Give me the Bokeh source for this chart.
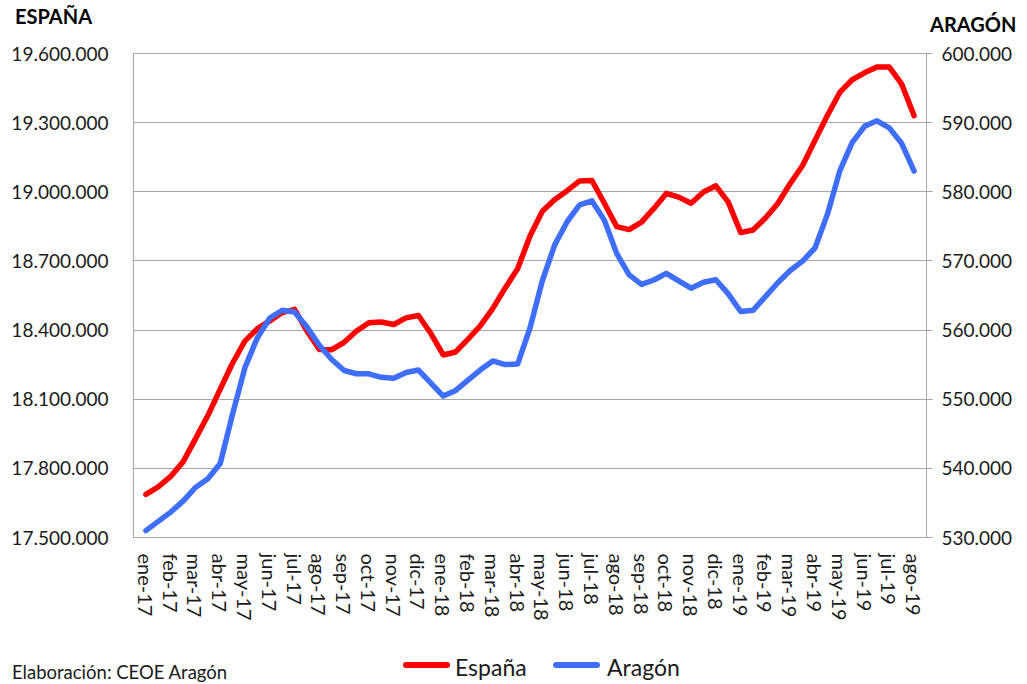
from bokeh.plotting import figure
from bokeh.layouts import column
from bokeh.models import (Range1d, LinearAxis, FixedTicker, CustomJSTickFormatter,
                          ColumnDataSource, Div)
from bokeh.embed import file_html
from bokeh.resources import INLINE

# ---------------- data ----------------
meses = ["ene-17", "feb-17", "mar-17", "abr-17", "may-17", "jun-17", "jul-17", "ago-17",
         "sep-17", "oct-17", "nov-17", "dic-17", "ene-18", "feb-18", "mar-18", "abr-18",
         "may-18", "jun-18", "jul-18", "ago-18", "sep-18", "oct-18", "nov-18", "dic-18",
         "ene-19", "feb-19", "mar-19", "abr-19", "may-19", "jun-19", "jul-19", "ago-19"]

# afiliados (half-month readings), España
espana = [17687000, 17720000, 17765000, 17828000, 17928000, 18029000, 18144000, 18257000,
          18353000, 18406000, 18440000, 18476000, 18490000, 18396000, 18316000, 18315000,
          18347000, 18396000, 18432000, 18435000, 18424000, 18453000, 18463000, 18385000,
          18292000, 18305000, 18361000, 18419000, 18494000, 18583000, 18666000, 18808000,
          18916000, 18967000, 19005000, 19047000, 19049000, 18950000, 18849000, 18836000,
          18868000, 18928000, 18993000, 18977000, 18950000, 18999000, 19026000, 18955000,
          18823000, 18834000, 18886000, 18949000, 19036000, 19114000, 19223000, 19331000,
          19431000, 19486000, 19516000, 19541000, 19541000, 19467000, 19330000]

# Aragón
aragon = [531000, 532330, 533670, 535260, 537230, 538500, 540700, 547880,
          554600, 558900, 561750, 562870, 562610, 560430, 557810, 555740,
          554150, 553680, 553680, 553160, 553040, 553860, 554220, 552320,
          550460, 551270, 552760, 554250, 555530, 555010, 555090, 560300,
          567170, 572360, 575670, 578100, 578680, 575900, 571060, 567990,
          566610, 567240, 568210, 567130, 566060, 566920, 567270, 565230,
          562690, 562860, 564830, 566850, 568620, 569980, 571870, 576730,
          583010, 587100, 589470, 590270, 589240, 586980, 583000]

ticks_espana = [17500000, 17800000, 18100000, 18400000, 18700000, 19000000, 19300000, 19600000]
ticks_aragon = [530000, 540000, 550000, 560000, 570000, 580000, 590000, 600000]

series_names = ["España", "Aragón"]
titulo_izq = "ESPAÑA"
titulo_der = "ARAGÓN"
fuente = "Elaboración: CEOE Aragón"

pos = [i * 0.5 for i in range(len(espana))]   # month index, two readings per month

FONT = "Lato"
GRID = "#A6A6A6"
RED = "#FF0000"
BLUE = "#3F6EFF"
TXT = "#1a1a1a"
W = 1019

# ---------- header: axis titles ----------
span = ("position:absolute;left:{l}px;top:{t}px;font-size:{s}px;font-weight:{w};"
        "line-height:1.2;white-space:nowrap;color:{c};")
header_html = (
    f'<div style="position:relative;width:{W}px;height:38px;overflow:hidden;font-family:{FONT};">'
    f'<span style="{span.format(l=15, t=4, s=20, w="bold", c="#000")}">{titulo_izq}</span>'
    f'<span style="{span.format(l=930, t=12, s=20, w="bold", c="#000")}">{titulo_der}</span>'
    '</div>')
header = Div(text=header_html, width=W, height=38, margin=0)

# ---------- main chart ----------
p = figure(width=W, height=602, output_backend="svg", toolbar_location=None,
           x_range=Range1d(-0.5, len(meses) - 0.5),
           y_range=Range1d(ticks_espana[0], ticks_espana[-1]),
           min_border_left=133, min_border_right=93, min_border_top=15, min_border_bottom=103)
p.extra_y_ranges = {"aragon": Range1d(ticks_aragon[0], ticks_aragon[-1])}

p.background_fill_color = "white"
p.border_fill_color = "white"
p.outline_line_color = GRID
p.outline_line_width = 1

fmt = CustomJSTickFormatter(code=r"return Math.round(tick).toString().replace(/\B(?=(\d{3})+(?!\d))/g, '.');")

ya = p.yaxis[0]
ya.ticker = FixedTicker(ticks=ticks_espana)
ya.formatter = fmt
ya.major_tick_in = 0
ya.major_tick_out = 0
ya.minor_tick_line_color = None
ya.axis_line_color = GRID
ya.major_label_standoff = 25
ya.major_label_text_font = FONT
ya.major_label_text_font_size = "19px"
ya.major_label_text_color = TXT

ra = LinearAxis(y_range_name="aragon", ticker=FixedTicker(ticks=ticks_aragon), formatter=fmt)
ra.major_tick_in = 6
ra.major_tick_out = 6
ra.major_tick_line_color = GRID
ra.minor_tick_line_color = None
ra.axis_line_color = GRID
ra.major_label_standoff = 9
ra.major_label_text_font = FONT
ra.major_label_text_font_size = "19px"
ra.major_label_text_color = TXT
p.add_layout(ra, "right")

xa = p.xaxis[0]
xa.ticker = FixedTicker(ticks=list(range(len(meses))))
xa.major_label_overrides = {i: m for i, m in enumerate(meses)}
xa.major_label_orientation = "vertical"
xa.major_tick_in = 0
xa.major_tick_out = 0
xa.minor_tick_line_color = None
xa.axis_line_color = GRID
xa.major_label_standoff = 16
xa.major_label_text_font = FONT
xa.major_label_text_font_size = "20px"
xa.major_label_text_color = TXT

p.xgrid.grid_line_color = None
p.ygrid.ticker = FixedTicker(ticks=ticks_espana)
p.ygrid.grid_line_color = GRID
p.ygrid.grid_line_width = 1

src = ColumnDataSource(dict(x=pos, esp=espana, ara=aragon))
p.line("x", "esp", source=src, line_color=RED, line_width=5.5, line_join="round", line_cap="round")
p.line("x", "ara", source=src, line_color=BLUE, line_width=5.5, line_join="round", line_cap="round",
       y_range_name="aragon")

# ---------- footer: legend + source note ----------
swatch = ("position:absolute;left:{l}px;top:22px;width:47px;height:6px;"
          "border-radius:3px;background:{c};")
footer_html = (
    f'<div style="position:relative;width:{W}px;height:44px;overflow:hidden;font-family:{FONT};color:{TXT};">'
    f'<span style="{span.format(l=12, t=21, s=18.5, w="normal", c=TXT)}">{fuente}</span>'
    f'<span style="{swatch.format(l=403, c=RED)}"></span>'
    f'<span style="{span.format(l=455, t=14, s=23, w="normal", c=TXT)}">{series_names[0]}</span>'
    f'<span style="{swatch.format(l=553, c=BLUE)}"></span>'
    f'<span style="{span.format(l=607, t=14, s=23, w="normal", c=TXT)}">{series_names[1]}</span>'
    '</div>')
footer = Div(text=footer_html, width=W, height=44, margin=0)

layout = column(header, p, footer, spacing=0)
open("out.html", "w").write(file_html(layout, INLINE))
